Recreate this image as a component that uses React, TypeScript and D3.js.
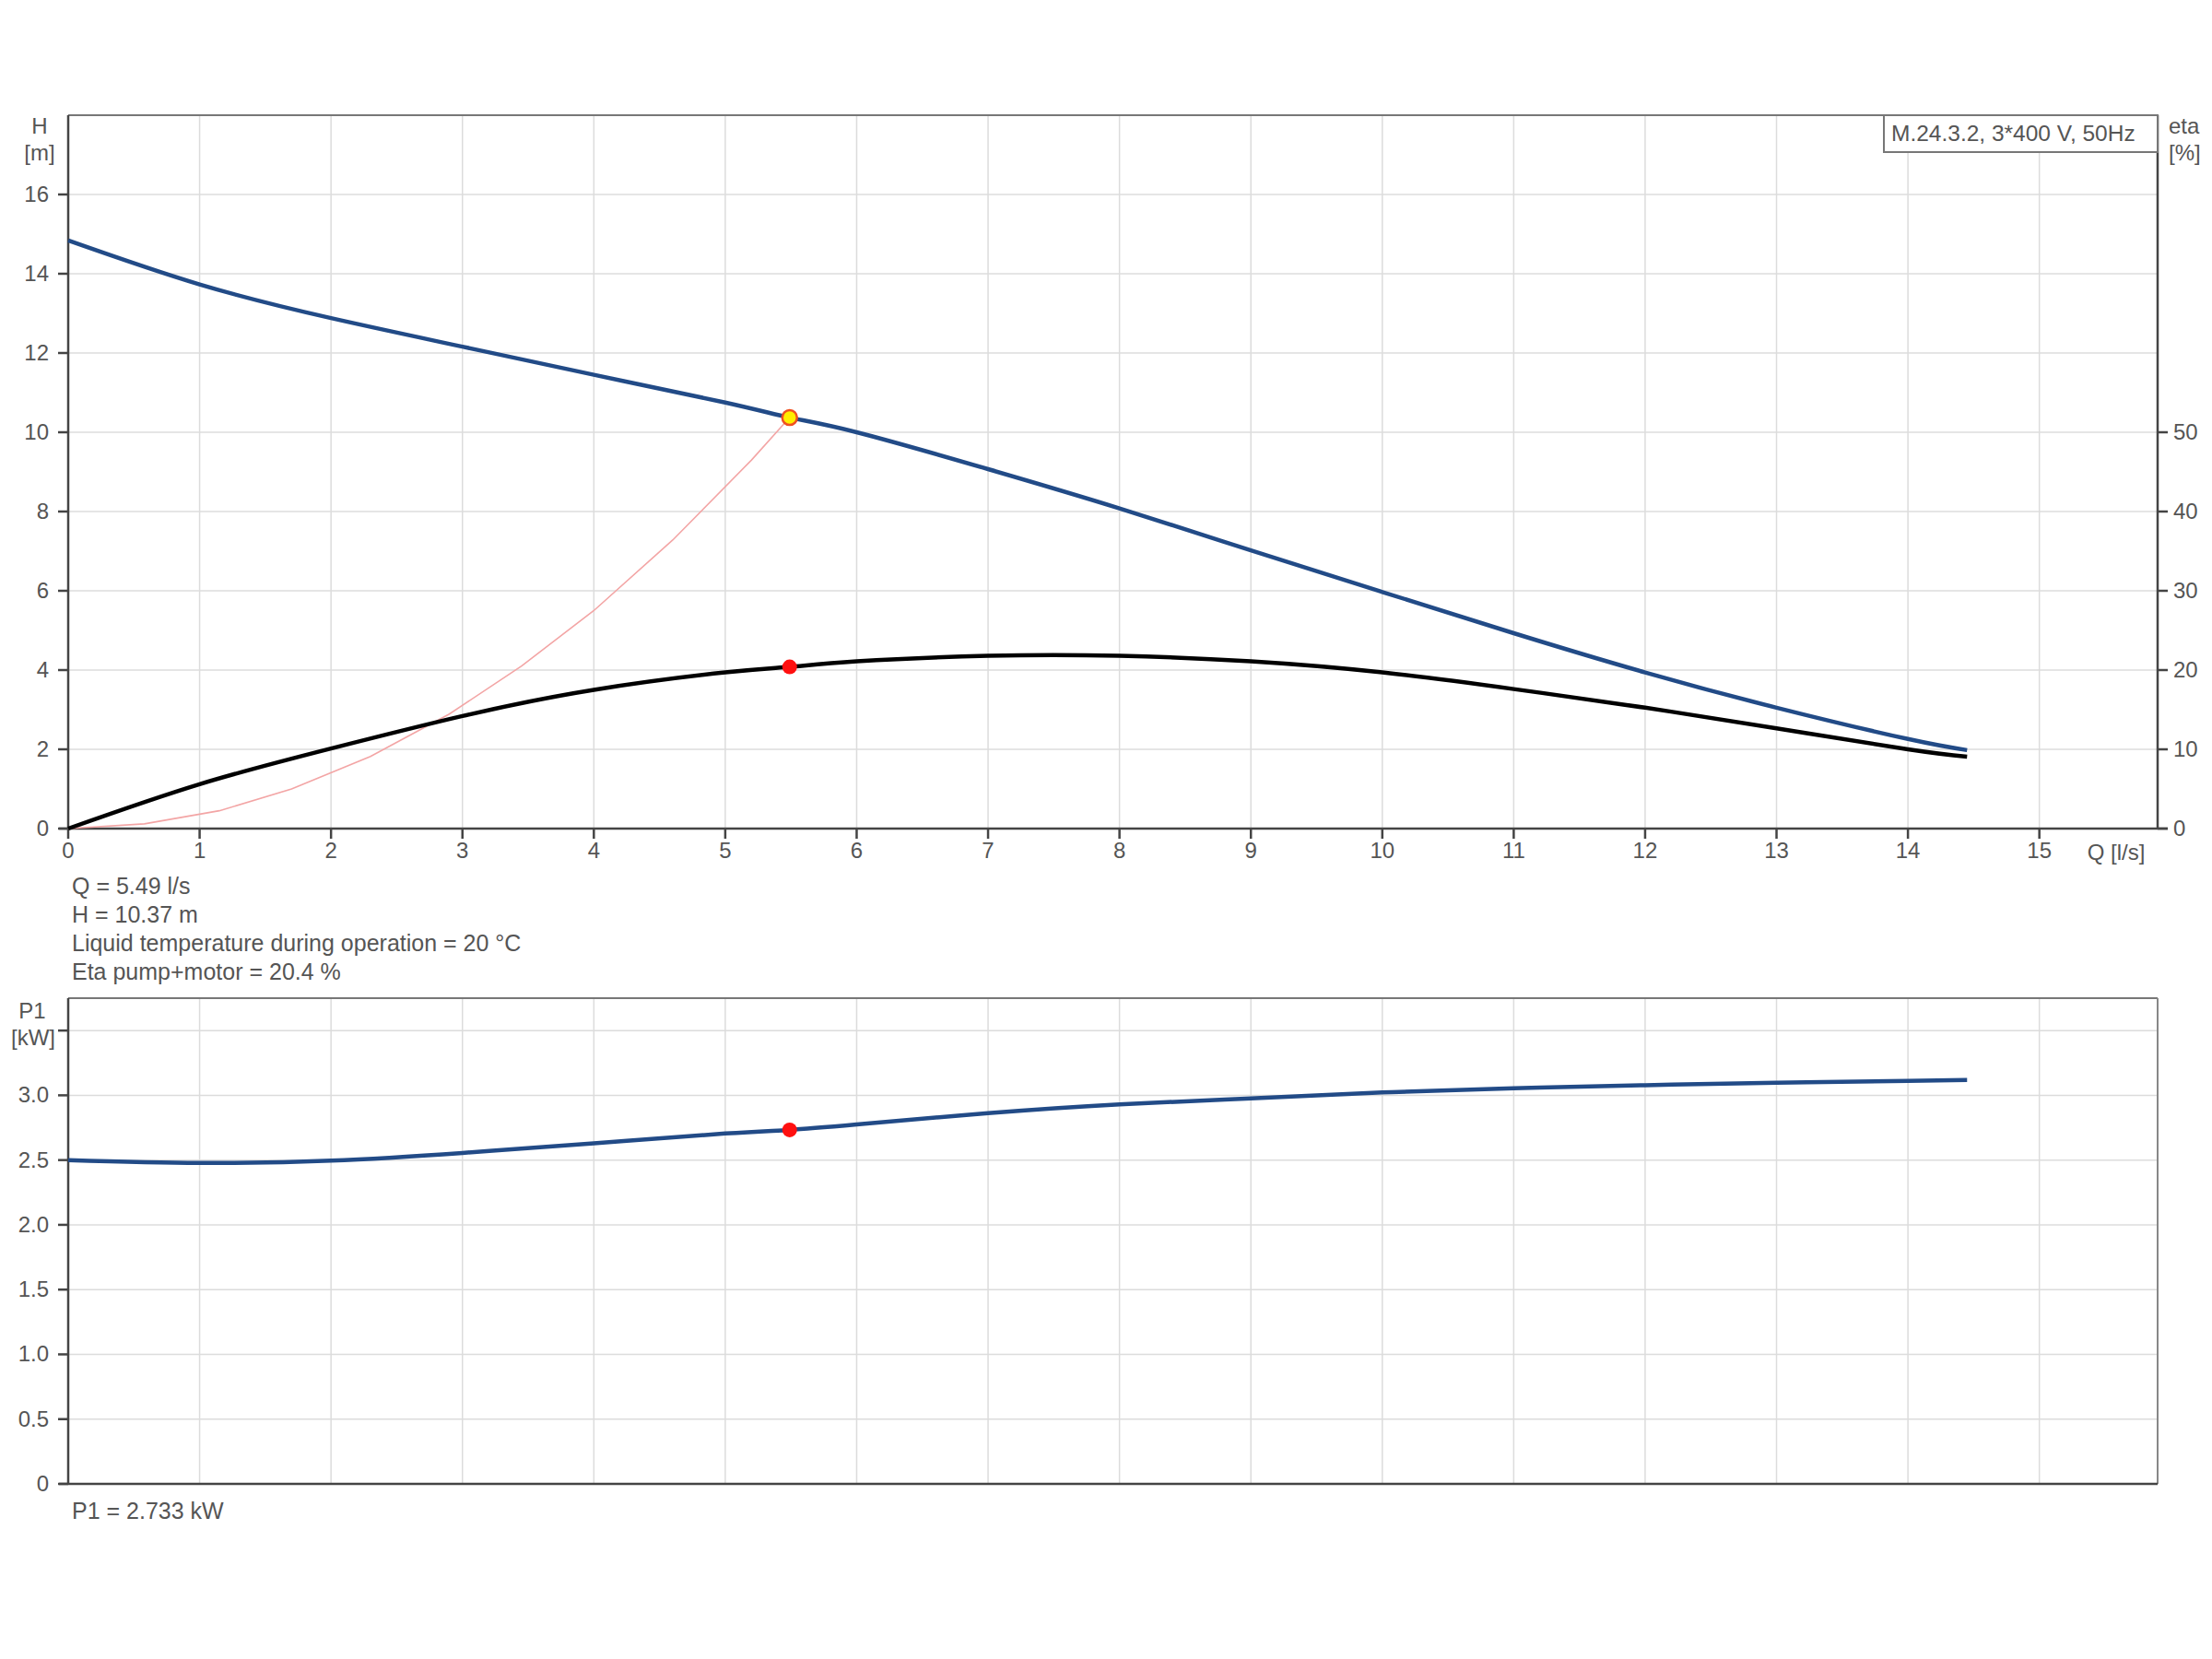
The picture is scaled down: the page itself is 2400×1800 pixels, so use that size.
import React from "react";
import * as d3 from "d3";

// ---- data ----
const qTicks = [0, 1, 2, 3, 4, 5, 6, 7, 8, 9, 10, 11, 12, 13, 14, 15];
const hTicks = [0, 2, 4, 6, 8, 10, 12, 14, 16];
const etaTicks = [0, 10, 20, 30, 40, 50];
const p1Ticks = [0, 0.5, 1.0, 1.5, 2.0, 2.5, 3.0, 3.5];
const p1TickLabels = ["0", "0.5", "1.0", "1.5", "2.0", "2.5", "3.0", ""];

const curveQ = [0, 1, 2, 3, 4, 5, 5.49, 6, 7, 8, 9, 10, 11, 12, 13, 14, 14.45];
const headH = [14.84, 13.73, 12.88, 12.16, 11.45, 10.75, 10.37, 10.0, 9.07, 8.08, 7.02, 5.97, 4.93, 3.94, 3.05, 2.26, 1.98];
const etaPct = [0, 5.6, 10.1, 14.2, 17.5, 19.7, 20.4, 21.1, 21.8, 21.8, 21.1, 19.7, 17.6, 15.25, 12.65, 10.0, 9.06];
const p1kW = [2.5, 2.478, 2.495, 2.555, 2.63, 2.705, 2.733, 2.775, 2.862, 2.93, 2.977, 3.022, 3.055, 3.078, 3.097, 3.112, 3.118];

const sysQ = [0, 0.58, 1.15, 1.7, 2.3, 2.9, 3.45, 4.0, 4.6, 5.2, 5.49];
const sysH = [0, 0.12, 0.45, 1.0, 1.82, 2.89, 4.1, 5.5, 7.28, 9.3, 10.37];

const dutyQ = 5.49;
const dutyH = 10.37;
const dutyEta = 20.4;
const dutyP1 = 2.733;

const legendText = "M.24.3.2, 3*400 V, 50Hz";
const infoLines = [
  "Q = 5.49 l/s",
  "H = 10.37 m",
  "Liquid temperature during operation = 20 °C",
  "Eta pump+motor = 20.4 %",
];
const p1Info = "P1 = 2.733 kW";

// ---- layout ----
const W = 2400;
const H = 1800;
const left = 74;
const right = 2341;
const top1 = 125;
const bottom1 = 899;
const top2 = 1083;
const bottom2 = 1610;

const FONT = "'Liberation Sans', Arial, sans-serif";
const TXT = "#555";
const AXIS = "#444";
const GRID = "#dcdcdc";
const BLUE = "#224b87";

export default function App() {
  const x = d3.scaleLinear().domain([0, 15.9]).range([left, right]);
  const yH = d3.scaleLinear().domain([0, 18]).range([bottom1, top1]);
  const yEta = d3.scaleLinear().domain([0, 90]).range([bottom1, top1]);
  const yP = d3.scaleLinear().domain([0, 3.75]).range([bottom2, top2]);

  const idx = curveQ.map((_, i) => i);
  const hLine = d3.line<number>().x((i) => x(curveQ[i])).y((i) => yH(headH[i])).curve(d3.curveNatural);
  const eLine = d3.line<number>().x((i) => x(curveQ[i])).y((i) => yEta(etaPct[i])).curve(d3.curveNatural);
  const pLine = d3.line<number>().x((i) => x(curveQ[i])).y((i) => yP(p1kW[i])).curve(d3.curveNatural);
  const sLine = d3.line<number>().x((i) => x(sysQ[i])).y((i) => yH(sysH[i])).curve(d3.curveLinear);
  const sIdx = sysQ.map((_, i) => i);

  const gridQ = qTicks.filter((q) => q > 0);

  return (
    <svg
      width={W}
      height={H}
      style={{ position: "absolute", left: 0, top: 0, background: "#fff" }}
      fontFamily={FONT}
    >
      <rect x={0} y={0} width={W} height={H} fill="#fff" />

      {/* ===== top chart ===== */}
      <g>
        {gridQ.map((q) => (
          <line key={"gv" + q} x1={x(q)} x2={x(q)} y1={top1} y2={bottom1} stroke={GRID} strokeWidth={1.5} />
        ))}
        {hTicks.filter((h) => h > 0).map((h) => (
          <line key={"gh" + h} x1={left} x2={right} y1={yH(h)} y2={yH(h)} stroke={GRID} strokeWidth={1.5} />
        ))}
        <line x1={left} x2={right} y1={top1} y2={top1} stroke="#777" strokeWidth={2} />
        <line x1={left} x2={left} y1={top1} y2={bottom1} stroke={AXIS} strokeWidth={2.5} />
        <line x1={right} x2={right} y1={top1} y2={bottom1} stroke={AXIS} strokeWidth={2.5} />
        <line x1={left - 10} x2={right + 11} y1={bottom1} y2={bottom1} stroke={AXIS} strokeWidth={2.5} />

        {hTicks.map((h) => (
          <g key={"ht" + h}>
            <line x1={left - 11} x2={left} y1={yH(h)} y2={yH(h)} stroke={AXIS} strokeWidth={2.5} />
            <text x={left - 21} y={yH(h) + 8} textAnchor="end" fontSize={24} fill={TXT}>
              {h}
            </text>
          </g>
        ))}
        {etaTicks.map((e) => (
          <g key={"et" + e}>
            <line x1={right} x2={right + 11} y1={yEta(e)} y2={yEta(e)} stroke={AXIS} strokeWidth={2.5} />
            <text x={right + 17} y={yEta(e) + 8} textAnchor="start" fontSize={24} fill={TXT}>
              {e}
            </text>
          </g>
        ))}
        {qTicks.map((q) => (
          <g key={"qt" + q}>
            <line x1={x(q)} x2={x(q)} y1={bottom1} y2={bottom1 + 11} stroke={AXIS} strokeWidth={2.5} />
            <text x={x(q)} y={bottom1 + 32} textAnchor="middle" fontSize={24} fill={TXT}>
              {q}
            </text>
          </g>
        ))}
        <text x={2296} y={bottom1 + 34} textAnchor="middle" fontSize={24} fill={TXT}>
          Q [l/s]
        </text>

        <text x={43} y={145} textAnchor="middle" fontSize={24} fill={TXT}>H</text>
        <text x={43} y={174} textAnchor="middle" fontSize={24} fill={TXT}>[m]</text>
        <text x={2353} y={145} textAnchor="start" fontSize={24} fill={TXT}>eta</text>
        <text x={2353} y={174} textAnchor="start" fontSize={24} fill={TXT}>[%]</text>

        {/* legend box */}
        <rect x={2044} y={top1} width={right - 2044} height={40} fill="#fff" stroke="#777" strokeWidth={2} />
        <text x={2052} y={top1 + 28} fontSize={24.5} fill={TXT}>{legendText}</text>

        {/* curves */}
        <path d={sLine(sIdx) || ""} fill="none" stroke="#f3a5a5" strokeWidth={1.6} />
        <path d={eLine(idx) || ""} fill="none" stroke="#000" strokeWidth={4.5} />
        <path d={hLine(idx) || ""} fill="none" stroke={BLUE} strokeWidth={4.5} />

        <circle cx={x(dutyQ)} cy={yH(dutyH)} r={8} fill="#ffee00" stroke="#f05020" strokeWidth={2.5} />
        <circle cx={x(dutyQ)} cy={yEta(dutyEta)} r={8} fill="#ff1010" />
      </g>

      {/* info text */}
      {infoLines.map((t, i) => (
        <text key={"info" + i} x={78} y={970 + i * 31} fontSize={25} fill={TXT}>
          {t}
        </text>
      ))}

      {/* ===== bottom chart ===== */}
      <g>
        {gridQ.map((q) => (
          <line key={"bgv" + q} x1={x(q)} x2={x(q)} y1={top2} y2={bottom2} stroke={GRID} strokeWidth={1.5} />
        ))}
        {p1Ticks.filter((p) => p > 0).map((p) => (
          <line key={"bgh" + p} x1={left} x2={right} y1={yP(p)} y2={yP(p)} stroke={GRID} strokeWidth={1.5} />
        ))}
        <line x1={left} x2={right} y1={top2} y2={top2} stroke="#777" strokeWidth={2} />
        <line x1={right} x2={right} y1={top2} y2={bottom2} stroke="#888" strokeWidth={2} />
        <line x1={left} x2={left} y1={top2} y2={bottom2} stroke={AXIS} strokeWidth={2.5} />
        <line x1={left - 10} x2={right} y1={bottom2} y2={bottom2} stroke={AXIS} strokeWidth={2.5} />
        {p1Ticks.map((p, i) => (
          <g key={"pt" + p}>
            <line x1={left - 11} x2={left} y1={yP(p)} y2={yP(p)} stroke={AXIS} strokeWidth={2.5} />
            <text x={left - 21} y={yP(p) + 8} textAnchor="end" fontSize={24} fill={TXT}>
              {p1TickLabels[i]}
            </text>
          </g>
        ))}
        <text x={35} y={1105} textAnchor="middle" fontSize={24} fill={TXT}>P1</text>
        <text x={36} y={1134} textAnchor="middle" fontSize={24} fill={TXT}>[kW]</text>

        <path d={pLine(idx) || ""} fill="none" stroke={BLUE} strokeWidth={4.5} />
        <circle cx={x(dutyQ)} cy={yP(dutyP1)} r={8} fill="#ff1010" />
      </g>

      <text x={78} y={1648} fontSize={25} fill={TXT}>{p1Info}</text>
    </svg>
  );
}
